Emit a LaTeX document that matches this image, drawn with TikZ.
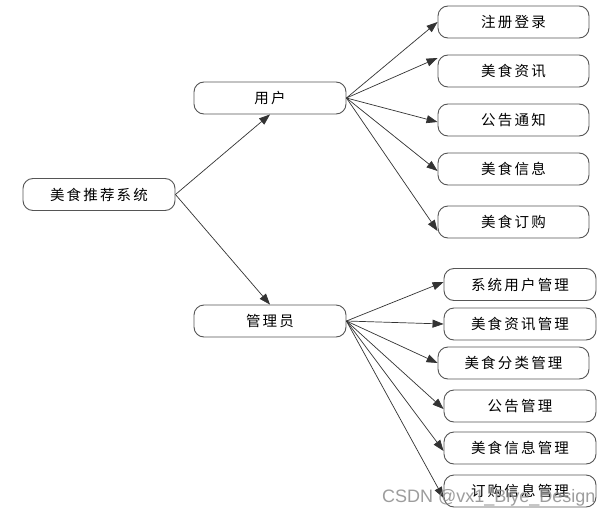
\documentclass[tikz,border=0pt]{standalone}
\usepackage{fontspec}
\usetikzlibrary{arrows.meta}
\newfontfamily\cjk[LetterSpace=15]{Noto Sans CJK SC}
\newfontfamily\wmfont{Liberation Sans}
\definecolor{boxline}{HTML}{555555}
\definecolor{arrline}{HTML}{333333}
\begin{document}
\begin{tikzpicture}[x=1pt,y=-1pt,
  box/.style={draw=boxline,line width=0.9pt,rounded corners=10pt,minimum width=152pt,minimum height=32pt,inner sep=0pt,font=\cjk\fontsize{14.5}{17}\selectfont,text=black},
  arr/.style={draw=arrline,line width=0.7pt,-{Triangle[length=11pt,width=8pt]}}]
\useasboundingbox (0,0) rectangle (613,514);
\fill[white] (0,0) rectangle (613,514);
% nodes
\node[box] (root) at (99,194.5) {美食推荐系统};
\node[box] (user) at (270,98) {用户};
\node[box] (admin) at (270,321) {管理员};
\node[box,minimum width=151pt] (u1) at (513.5,22) {注册登录};
\node[box,minimum width=151pt] (u2) at (513.5,71) {美食资讯};
\node[box,minimum width=151pt] (u3) at (513.5,120) {公告通知};
\node[box,minimum width=151pt] (u4) at (513.5,169) {美食信息};
\node[box,minimum width=151pt] (u5) at (513.5,222) {美食订购};
\node[box] (a1) at (520,284.5) {系统用户管理};
\node[box] (a2) at (520,324) {美食资讯管理};
\node[box,minimum width=151pt] (a3) at (513.5,363) {美食分类管理};
\node[box] (a4) at (520,406) {公告管理};
\node[box] (a5) at (520,448) {美食信息管理};
\node[box] (a6) at (520,491) {订购信息管理};
% connectors
\draw[arr] (root.east) -- (user.south);
\draw[arr] (root.east) -- (admin.north);
\draw[arr] (user.east) -- (u1.west);
\draw[arr] (user.east) -- ([yshift=13pt]u2.west);
\draw[arr] (user.east) -- ([yshift=-2pt]u3.west);
\draw[arr] (user.east) -- ([yshift=-2pt]u4.west);
\draw[arr] (user.east) -- ([yshift=-9pt]u5.west);
\draw[arr] (admin.east) -- ([yshift=2.5pt]a1.west);
\draw[arr] (admin.east) -- (a2.west);
\draw[arr] (admin.east) -- (a3.west);
\draw[arr] (admin.east) -- ([yshift=-3pt]a4.west);
\draw[arr] (admin.east) -- ([yshift=-3pt]a5.west);
\draw[arr] (admin.east) -- ([yshift=-7pt]a6.west);
% watermark
\node[anchor=base west,inner sep=0pt,text=black!45,opacity=0.85,font=\wmfont\fontsize{18}{20}\selectfont] (wm) at (382,502) {CSDN @vx1\_Biye\_Design};
\end{tikzpicture}
\end{document}
